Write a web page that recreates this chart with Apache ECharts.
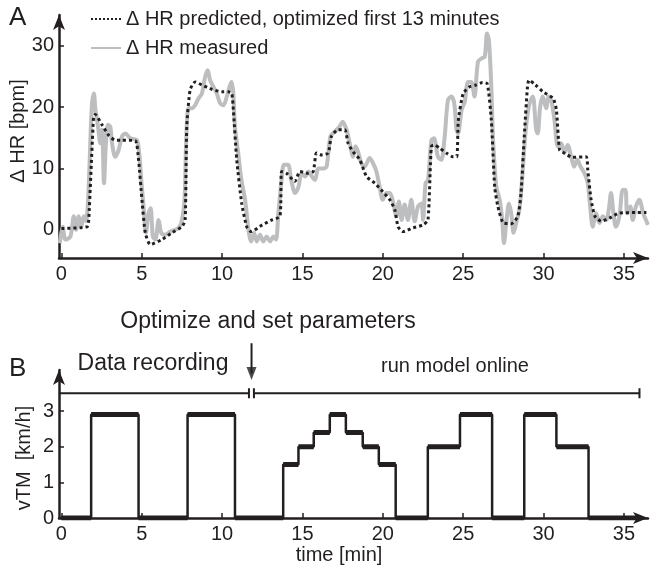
<!DOCTYPE html>
<html>
<head>
<meta charset="utf-8">
<script src="https://cdn.jsdelivr.net/npm/echarts@6.0.0/dist/echarts.min.js"></script>
<style>
html, body { margin: 0; padding: 0; background: #fff; }
#chart { width: 657px; height: 569px; }
</style>
</head>
<body>
<div id="chart"></div>
<script>
// A: heart rate change [bpm] over time [min]
var measT = [-0.1, 0.08, 0.25, 0.56, 0.77, 0.91, 1.08, 1.24, 1.39, 1.53, 1.66, 1.76, 1.9, 2.02, 2.12, 2.28, 2.42, 2.53, 2.65, 2.77, 2.9, 3.04, 3.15, 3.35, 3.56, 3.77, 3.98, 4.29, 4.7, 4.84, 4.97, 5.11, 5.26, 5.42, 5.55, 5.69, 5.84, 6.05, 6.21, 6.46, 6.77, 7.29, 7.5, 7.66, 7.76, 7.91, 8.12, 8.32, 8.53, 8.74, 8.94, 9.1, 9.25, 9.46, 9.67, 9.88, 10.08, 10.29, 10.5, 10.6, 10.7, 10.8, 11.0, 11.2, 11.43, 11.64, 11.8, 11.99, 12.15, 12.36, 12.56, 12.77, 12.98, 13.19, 13.35, 13.5, 13.7, 13.85, 14.1, 14.3, 14.54, 14.75, 14.95, 15.16, 15.37, 15.58, 15.78, 15.99, 16.3, 16.5, 16.74, 17.01, 17.3, 17.5, 17.74, 17.94, 18.15, 18.3, 18.46, 18.67, 18.87, 19.18, 19.4, 19.6, 19.8, 20.0, 20.22, 20.43, 20.63, 20.84, 21.0, 21.17, 21.36, 21.56, 21.77, 21.98, 22.19, 22.4, 22.5, 22.66, 22.81, 23.02, 23.18, 23.43, 23.64, 23.85, 24.05, 24.26, 24.45, 24.58, 24.68, 24.9, 25.1, 25.3, 25.5, 25.7, 25.92, 26.13, 26.34, 26.48, 26.6, 26.75, 26.85, 27.06, 27.27, 27.43, 27.54, 27.68, 27.85, 27.99, 28.14, 28.3, 28.5, 28.68, 28.82, 28.96, 29.13, 29.33, 29.54, 29.64, 29.79, 29.96, 30.16, 30.33, 30.48, 30.68, 30.89, 31.1, 31.3, 31.5, 31.72, 31.9, 32.1, 32.3, 32.55, 32.75, 32.9, 33.06, 33.27, 33.48, 33.69, 33.9, 34.06, 34.2, 34.35, 34.5, 34.72, 34.93, 35.1, 35.2, 35.4, 35.55, 35.75, 35.96, 36.2, 36.5];
var measV = [-2.2, 0.5, -1.6, -1.1, 2.2, 0, 2.2, 0.5, 2.2, 1.4, 4.9, 11.4, 20.5, 22.2, 19.5, 16.8, 14.1, 16.3, 7.6, 14.1, 17.1, 16.8, 14.1, 11.9, 13.0, 15.2, 15.7, 14.9, 14.6, 12.5, 8.1, 3.8, -0.5, 2.7, 3.5, -1.1, -1.6, 1.6, -0.5, -0.8, -0.3, 0.3, 1.6, 4.9, 14.1, 19.8, 19.8, 20.3, 21.4, 22.2, 24.9, 26.0, 24.4, 23.3, 22.2, 20.6, 20.3, 21.7, 23.6, 24.1, 22.2, 16.8, 12.5, 8.1, 4.9, 0, -1.9, -0.5, -1.9, -0.8, -1.9, -1.1, -1.9, -1.1, -1.6, 2.7, 8.1, 10.6, 10.6, 8.1, 6.0, 7.0, 9.2, 8.7, 9.5, 8.7, 8.1, 10.0, 10.0, 10.3, 15.2, 16.0, 16.8, 17.6, 16.3, 14.1, 11.9, 13.6, 12.7, 10.8, 10.3, 11.7, 10.8, 9.5, 7.0, 4.9, 6.0, 6.0, 4.6, 2.2, 4.6, 1.6, 4.1, 1.6, 4.9, 1.4, 3.8, 4.3, 1.6, 7.6, 8.1, 14.6, 14.9, 11.9, 11.4, 15.2, 21.1, 21.7, 20.5, 16.3, 15.7, 19.5, 20.9, 24.1, 24.1, 21.7, 27.4, 27.9, 28.2, 32.0, 30.9, 23.3, 15.2, 7.0, 4.9, 1.6, -2.2, 1.1, 4.3, 2.7, -0.5, 1.1, 3.3, 8.7, 14.1, 17.9, 20.6, 21.7, 16.3, 15.7, 20.1, 21.7, 19.8, 21.7, 21.1, 17.9, 13.6, 14.1, 12.5, 13.8, 11.9, 10.3, 11.4, 10.3, 9.2, 7.6, 3.8, 0.5, 2.7, 1.1, 2.2, 1.6, 3.3, 6.0, 2.7, 0.5, 2.2, 6.5, 6.5, 2.7, 3.8, 1.6, 3.8, 4.9, 2.7, 0.8];
var predT = [0, 1.6, 1.7, 2.0, 2.1, 2.53, 2.94, 3.35, 3.77, 4.6, 4.8, 5.01, 5.22, 5.53, 6.25, 6.87, 7.5, 7.7, 7.8, 8.01, 8.32, 8.74, 9.36, 9.98, 10.39, 10.6, 10.7, 10.91, 11.22, 11.53, 11.8, 12.5, 13.1, 13.6, 13.7, 14.0, 14.53, 14.84, 15.35, 15.67, 15.87, 16.18, 16.6, 16.8, 17.22, 17.63, 17.84, 18.15, 18.57, 18.98, 19.5, 20.0, 20.43, 20.74, 20.95, 21.26, 21.88, 22.5, 22.81, 23.02, 23.22, 23.54, 23.95, 24.36, 24.6, 24.7, 25.0, 25.4, 25.8, 26.2, 26.5, 26.75, 26.96, 27.16, 27.5, 28.0, 28.4, 28.6, 28.8, 29.0, 29.1, 29.5, 29.96, 30.6, 30.8, 31.0, 31.3, 31.8, 32.65, 32.75, 32.96, 33.2, 33.6, 34.1, 34.7, 35.76, 36.4];
var predV = [0.2, 0.5, 1.6, 18.4, 18.8, 17.1, 15.4, 14.6, 14.6, 14.5, 11.4, 4.9, -0.5, -2.4, -1.6, -0.5, 0.5, 1.6, 16.8, 22.8, 24.1, 23.6, 22.9, 22.5, 22.5, 22.2, 19.5, 11.4, 4.3, 0.5, -0.3, 0.8, 1.6, 2.2, 9.5, 9.2, 7.9, 9.5, 9.2, 9.5, 12.5, 12.2, 12.5, 15.2, 16.3, 16.3, 14.1, 12.7, 11.4, 8.7, 7.6, 6.2, 4.9, 3.3, 0.5, -0.3, 0.3, 0.8, 1.6, 13.6, 13.8, 13.3, 12.5, 11.9, 11.9, 17.9, 22.2, 23.3, 23.6, 24.0, 23.8, 17.9, 7.0, 3.8, 1.1, 1.0, 2.2, 6.0, 15.2, 23.3, 24.4, 23.6, 22.5, 21.4, 19.5, 13.0, 12.5, 11.8, 11.9, 9.8, 4.9, 2.2, 1.4, 1.9, 2.7, 2.8, 2.8];

// B: treadmill speed, constant between consecutive stepTimes
var stepTimes = [0, 1.85, 4.8, 7.85, 10.8, 13.8, 14.75, 15.7, 16.7, 17.7, 18.75, 19.75, 20.8, 22.8, 24.8, 26.8, 28.8, 30.8, 32.8, 35.9];
var stepSpeeds = [0, 2.9, 0, 2.9, 0, 1.5, 2.0, 2.4, 2.9, 2.4, 2.0, 1.5, 0, 2.0, 2.9, 0, 2.9, 2.0, 0];

// experiment phases
var recordPhase = [-0.15, 11.67];
var onlinePhase = [11.98, 35.97];
var optimizeAt = 11.83;

var xTicks = [0, 5, 10, 15, 20, 25, 30, 35];
var hrTicks = [0, 10, 20, 30];
var speedTicks = [0, 1, 2, 3];

var ink = '#231f20';
var font = 'Liberation Sans, Arial, sans-serif';
var predName = '\u0394 HR predicted, optimized first 13 minutes';
var measName = '\u0394 HR measured';

function pairs(xs, ys) {
    var out = [];
    for (var i = 0; i < xs.length; i++) out.push([xs[i], ys[i]]);
    return out;
}

// step path (vertical edges included) and flat parts only
var stepPath = [];
var stepFlat = [];
for (var i = 0; i < stepSpeeds.length; i++) {
    stepPath.push([stepTimes[i], stepSpeeds[i]], [stepTimes[i + 1], stepSpeeds[i]]);
    stepFlat.push([stepTimes[i], stepSpeeds[i]], [stepTimes[i + 1], stepSpeeds[i]], null);
}

// timeline above panel B, drawn in B's coordinates
var tlY = 3.5, tickH = 0.14;
var timeline = [
    [recordPhase[0], tlY], [recordPhase[1], tlY], null,
    [recordPhase[1], tlY - tickH], [recordPhase[1], tlY + tickH], null,
    [onlinePhase[0], tlY - tickH], [onlinePhase[0], tlY + tickH], null,
    [onlinePhase[0], tlY], [onlinePhase[1], tlY], null,
    [onlinePhase[1], tlY - tickH], [onlinePhase[1], tlY + tickH]
];
var arrowTop = 4.9, arrowHead = 4.05;

function xAxisFor(g) {
    return {
        type: 'value', gridIndex: g, min: -0.15, max: 36.5,
        axisLine: { onZero: false, symbol: ['none', 'arrow'], symbolSize: [9, 15], lineStyle: { color: ink, width: 2.5 } },
        axisTick: { inside: true, length: 5, customValues: xTicks, lineStyle: { color: ink, width: 1.5 } },
        axisLabel: { customValues: xTicks, color: ink, fontSize: 20, fontFamily: font, margin: 6 },
        splitLine: { show: false }
    };
}
function yAxisFor(g, min, max, ticks) {
    return {
        type: 'value', gridIndex: g, min: min, max: max,
        axisLine: { show: true, onZero: false, symbol: ['none', 'arrow'], symbolSize: [9, 15], lineStyle: { color: ink, width: 2.5 } },
        axisTick: { show: true, inside: true, length: 5, customValues: ticks, lineStyle: { color: ink, width: 1.5 } },
        axisLabel: { customValues: ticks, color: ink, fontSize: 20, fontFamily: font, margin: 5 },
        splitLine: { show: false }
    };
}

function txt(s, x, y, size, rot, align) {
    return {
        type: 'text', x: x, y: y, rotation: rot || 0,
        style: { text: s, fill: ink, fontSize: size, fontFamily: font, align: align || 'center', verticalAlign: 'middle' }
    };
}

var myChart = echarts.init(document.getElementById('chart'));
var option = {
    animation: false,
    backgroundColor: '#fff',
    grid: [
        { left: 59, right: 9, top: 15, bottom: 311 },
        { left: 59, right: 9, top: 370, bottom: 51 }
    ],
    xAxis: [xAxisFor(0), xAxisFor(1)],
    yAxis: [yAxisFor(0, -4.6, 35, hrTicks), yAxisFor(1, 0, 4.15, speedTicks)],
    legend: {
        left: 85, top: 4, orient: 'vertical',
        itemWidth: 30, itemHeight: 14, itemGap: 9,
        itemStyle: { opacity: 0 },
        textStyle: { color: ink, fontSize: 20, fontFamily: font, lineHeight: 20 },
        data: [predName, measName]
    },
    graphic: [
        txt('A', 9, 18, 26, 0, 'left'),
        txt('B', 9, 369, 26, 0, 'left'),
        txt('\u0394 HR [bpm]', 18, 131, 20, Math.PI / 2),
        txt('vTM  [km/h]', 24, 458, 20, Math.PI / 2),
        txt('time [min]', 339, 555, 20),
        txt('Optimize and set parameters', 268, 322, 23),
        txt('Data recording', 153, 364, 23),
        txt('run model online', 455, 366, 20)
    ],
    series: [
        {
            name: measName, type: 'line', xAxisIndex: 0, yAxisIndex: 0,
            data: pairs(measT, measV), showSymbol: false, symbol: 'none', smooth: 0.3,
            lineStyle: { color: '#bcbec0', width: 4 }, itemStyle: { color: '#bcbec0' }, z: 2
        },
        {
            name: predName, type: 'line', xAxisIndex: 0, yAxisIndex: 0,
            data: pairs(predT, predV), showSymbol: false, symbol: 'none', smooth: 0.2,
            lineStyle: { color: ink, width: 3, type: 'dotted' }, itemStyle: { color: ink }, z: 3
        },
        {
            name: 'speed', type: 'line', xAxisIndex: 1, yAxisIndex: 1,
            data: stepPath, showSymbol: false, symbol: 'none',
            lineStyle: { color: ink, width: 2.5 }, z: 3
        },
        {
            name: 'speedFlat', type: 'line', xAxisIndex: 1, yAxisIndex: 1,
            data: stepFlat, showSymbol: false, symbol: 'none', connectNulls: false,
            lineStyle: { color: ink, width: 5, cap: 'butt' }, z: 3
        },
        {
            name: 'timeline', type: 'line', xAxisIndex: 1, yAxisIndex: 1,
            data: timeline, showSymbol: false, symbol: 'none', connectNulls: false, clip: false,
            lineStyle: { color: ink, width: 2 }, z: 3
        },
        {
            name: 'optimizeShaft', type: 'line', xAxisIndex: 1, yAxisIndex: 1,
            data: [[optimizeAt, arrowTop], [optimizeAt, arrowHead]], showSymbol: false, symbol: 'none', clip: false,
            lineStyle: { color: ink, width: 2 }, z: 3
        },
        {
            name: 'optimizeHead', type: 'scatter', xAxisIndex: 1, yAxisIndex: 1,
            data: [[optimizeAt, arrowHead]], symbol: 'triangle', symbolRotate: 180, symbolSize: [10, 13],
            clip: false, silent: true, itemStyle: { color: ink }, z: 3
        }
    ]
};
myChart.setOption(option);
</script>
</body>
</html>
